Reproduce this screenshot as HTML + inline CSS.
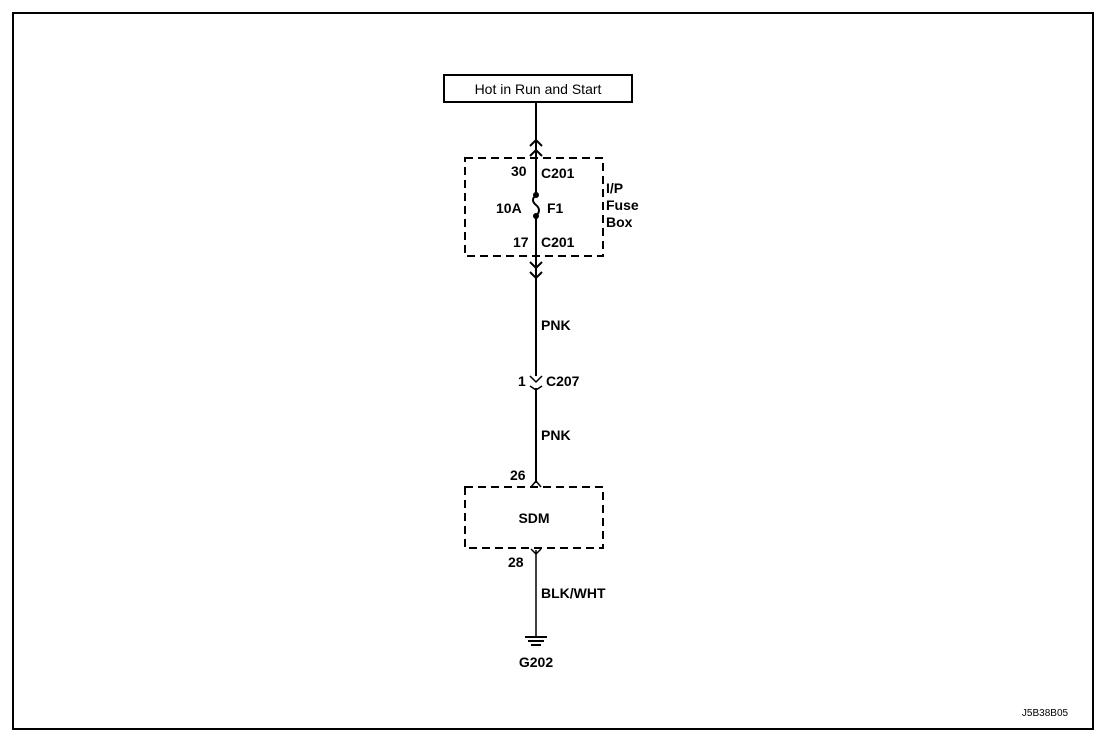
<!DOCTYPE html>
<html><head><style>body{margin:0;background:#fff}svg{display:block}text{font-family:"Liberation Sans",sans-serif;font-size:14px;fill:#000}</style></head><body>
<svg width="1120" height="740" xmlns="http://www.w3.org/2000/svg">
<rect x="13" y="13" width="1080" height="716" fill="none" stroke="#000" stroke-width="2"/>
<rect x="444" y="75" width="188" height="27" fill="none" stroke="#000" stroke-width="2"/>
<text x="538" y="94" text-anchor="middle">Hot in Run and Start</text>
<g stroke="#000" stroke-width="2" fill="none">
<line x1="536" y1="102" x2="536" y2="195"/>
<path d="M530 146 L536 140 L542 146"/>
<path d="M530 156 L536 150 L542 156"/>
<path d="M536 195 Q530 200 536 205 Q542 210 536 216"/>
<line x1="536" y1="216" x2="536" y2="376"/>
<path d="M530 262 L536 268 L542 262"/>
<path d="M530 272 L536 278 L542 272"/>
<path d="M530 376 L536 382 L542 376" stroke-width="1.5"/>
<path d="M530 386 L536 390 L542 386" stroke-width="1.5"/>
<line x1="536" y1="388" x2="536" y2="483"/>
<path d="M531 487 L536 481 L541 487" stroke-width="1.5"/>
<path d="M531 549 L536 554 L541 549" stroke-width="1.5"/>
<line x1="536" y1="550" x2="536" y2="636" stroke-width="1.5"/>
<line x1="525" y1="637" x2="547" y2="637"/>
<line x1="528" y1="641" x2="544" y2="641"/>
<line x1="531" y1="645" x2="541" y2="645"/>
<rect x="465" y="158" width="138" height="98" stroke-width="2" stroke-dasharray="8,5"/>
<rect x="465" y="487" width="138" height="61" stroke-width="2" stroke-dasharray="8,5"/>
</g>
<circle cx="536" cy="195" r="3"/><circle cx="536" cy="216" r="3"/>
<g font-weight="bold">
<text x="511" y="176">30</text><text x="541" y="178">C201</text>
<text x="496" y="213">10A</text><text x="547" y="213">F1</text>
<text x="513" y="247">17</text><text x="541" y="247">C201</text>
<text x="606" y="193">I/P</text><text x="606" y="210">Fuse</text><text x="606" y="227">Box</text>
<text x="541" y="330">PNK</text>
<text x="518" y="386">1</text><text x="546" y="386">C207</text>
<text x="541" y="440">PNK</text>
<text x="510" y="480">26</text>
<text x="534" y="523" text-anchor="middle">SDM</text>
<text x="508" y="567">28</text>
<text x="541" y="598">BLK/WHT</text>
<text x="536" y="667" text-anchor="middle">G202</text>
</g>
<text x="1045" y="716" text-anchor="middle" style="font-size:10px">J5B38B05</text>
</svg>
</body></html>
